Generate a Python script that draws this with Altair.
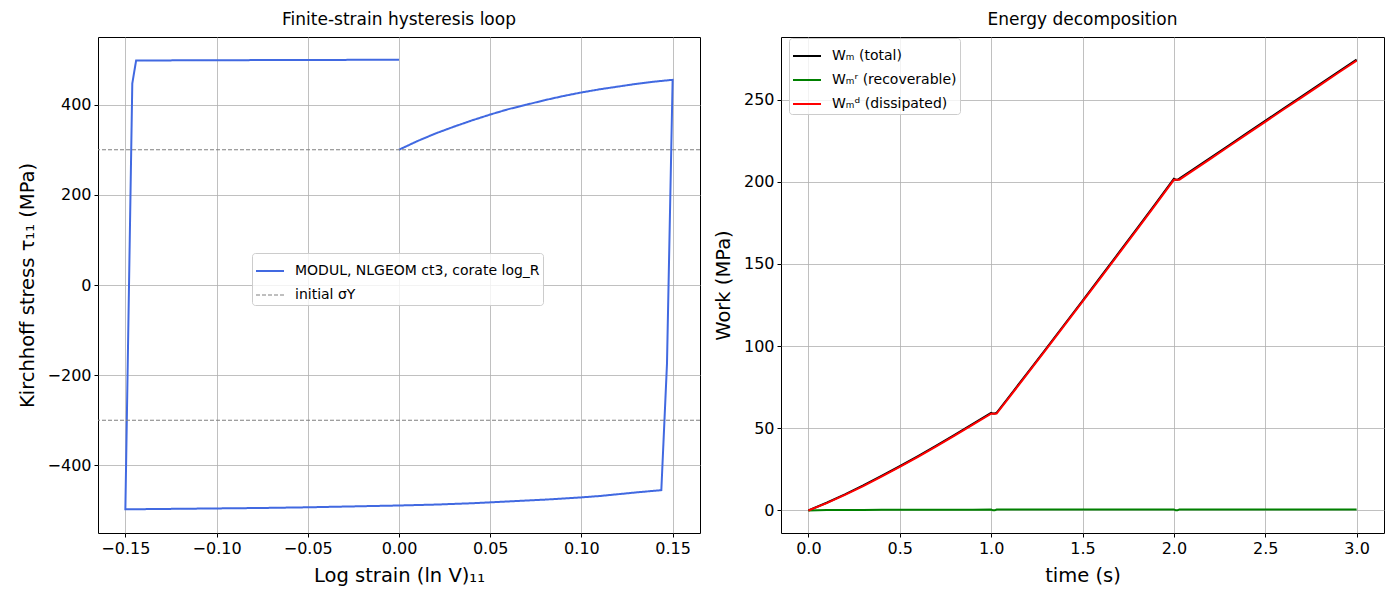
import altair as alt
import pandas as pd

# ---------------- data: left panel (hysteresis loop) ----------------
strain = [
    0.0, 0.01, 0.02, 0.03, 0.04, 0.05, 0.06, 0.07, 0.08, 0.09, 0.10, 0.11, 0.12, 0.13, 0.14, 0.15,
    0.1469, 0.1438,
    0.13, 0.12, 0.11, 0.10, 0.08, 0.06, 0.04, 0.02, 0.0, -0.025, -0.05, -0.075, -0.10, -0.125, -0.15,
    -0.1462, -0.1441,
    -0.12, -0.10, -0.075, -0.05, -0.025, 0.0,
]
stress = [
    300, 319, 336, 351, 365, 378, 390, 400, 410, 419, 427, 434, 440, 446, 451, 455,
    -175, -455,
    -460, -464, -468, -471, -476, -480, -484, -487, -489, -491, -493, -494.5, -495.5, -496.5, -497.5,
    447, 498,
    498.2, 498.5, 498.8, 499.1, 499.3, 499.5,
]
loop_label = "MODUL, NLGEOM ct3, corate log_R"
yield_label = "initial σY"
yield_levels = [300, -300]

# ---------------- data: right panel (energy) ----------------
time = [
    0.0, 0.1, 0.2, 0.3, 0.4, 0.5, 0.6, 0.7, 0.8, 0.9, 1.0,
    1.01, 1.02, 1.03,
    1.1, 1.2, 1.3, 1.4, 1.5, 1.6, 1.7, 1.8, 1.9, 2.0,
    2.01, 2.02, 2.03,
    2.1, 2.2, 2.3, 2.4, 2.5, 2.6, 2.7, 2.8, 2.9, 3.0,
]
w_total = [
    0.0, 4.7, 9.8, 15.2, 21.0, 26.9, 33.1, 39.5, 46.0, 52.7, 59.4,
    58.95, 58.95, 59.45,
    69.5, 83.9, 98.4, 113.0, 127.6, 142.3, 157.0, 171.8, 186.7, 201.8,
    201.25, 201.25, 201.9,
    207.1, 214.6, 222.1, 229.6, 237.1, 244.6, 252.0, 259.5, 267.0, 274.4,
]
w_rec = [
    0.0, 0.27, 0.31, 0.34, 0.37, 0.40, 0.43, 0.46, 0.48, 0.50, 0.52,
    0.07, 0.07, 0.52,
    0.53, 0.54, 0.55, 0.56, 0.57, 0.58, 0.58, 0.59, 0.60, 0.60,
    0.05, 0.05, 0.62,
    0.62, 0.62, 0.62, 0.62, 0.62, 0.62, 0.62, 0.62, 0.62, 0.62,
]
w_diss = [
    0.0, 4.43, 9.49, 14.86, 20.63, 26.50, 32.67, 39.04, 45.52, 52.20, 58.88,
    58.88, 58.88, 58.93,
    68.97, 83.36, 97.85, 112.44, 127.03, 141.72, 156.42, 171.21, 186.10, 201.20,
    201.20, 201.20, 201.28,
    206.48, 213.98, 221.48, 228.98, 236.48, 243.98, 251.38, 258.88, 266.38, 273.78,
]
energy_labels = ["Wₘ (total)", "Wₘʳ (recoverable)", "Wₘᵈ (dissipated)"]
energy_colors = ["#000000", "#008000", "#ff0000"]

FONT = "DejaVu Sans"

# ---------------- left panel ----------------
loop_df = pd.DataFrame({"strain": strain, "stress": stress,
                        "idx": list(range(len(strain))), "series": loop_label})
yield_df = pd.DataFrame({"level": yield_levels, "series": yield_label})

left_legend = alt.Legend(title=None, orient="none", legendX=154, legendY=216,
                         symbolType="stroke", symbolSize=784, labelLimit=0)
left_color = alt.Color(
    "series:N",
    scale=alt.Scale(domain=[loop_label, yield_label], range=["#4169e1", "#808080"]),
    legend=left_legend,
)
left_dash = alt.StrokeDash(
    "series:N",
    scale=alt.Scale(domain=[loop_label, yield_label], range=[[1, 0], [4, 2]]),
    legend=left_legend,
)
left_sw = alt.StrokeWidth(
    "series:N",
    scale=alt.Scale(domain=[loop_label, yield_label], range=[2, 1.1]),
    legend=None,
)

xs_left = alt.Scale(domain=[-0.165, 0.165], nice=False, zero=False)
ys_left = alt.Scale(domain=[-550, 550], nice=False, zero=False)

loop = alt.Chart(loop_df).mark_line(strokeJoin="miter").encode(
    x=alt.X("strain:Q", scale=xs_left,
            axis=alt.Axis(title="Log strain (ln V)₁₁", values=[-0.15, -0.10, -0.05, 0.0, 0.05, 0.10, 0.15],
                          format=".2f")),
    y=alt.Y("stress:Q", scale=ys_left,
            axis=alt.Axis(title="Kirchhoff stress τ₁₁ (MPa)", values=[-400, -200, 0, 200, 400], format="d")),
    order="idx:Q",
    color=left_color,
    strokeDash=left_dash,
    strokeWidth=left_sw,
)
yields = alt.Chart(yield_df).mark_rule().encode(
    y=alt.Y("level:Q", scale=ys_left),
    color=left_color,
    strokeDash=left_dash,
    strokeWidth=left_sw,
)
left = alt.layer(loop, yields).properties(
    width=602, height=496,
    title=alt.TitleParams("Finite-strain hysteresis loop"),
)

# ---------------- right panel ----------------
def energy_df(values, label):
    return pd.DataFrame({"time": time, "work": values, "series": label})

right_color = alt.Color(
    "series:N",
    scale=alt.Scale(domain=energy_labels, range=energy_colors),
    legend=alt.Legend(title=None, orient="none", legendX=8, legendY=1,
                      symbolType="stroke", symbolSize=784, labelLimit=0),
)
xs_right = alt.Scale(domain=[-0.15, 3.15], nice=False, zero=False)
ys_right = alt.Scale(domain=[-13.72, 288.12], nice=False, zero=False)

def energy_layer(values, label):
    return alt.Chart(energy_df(values, label)).mark_line(strokeWidth=2).encode(
        x=alt.X("time:Q", scale=xs_right,
                axis=alt.Axis(title="time (s)", values=[0, 0.5, 1, 1.5, 2, 2.5, 3], format=".1f")),
        y=alt.Y("work:Q", scale=ys_right,
                axis=alt.Axis(title="Work (MPa)", values=[0, 50, 100, 150, 200, 250], format="d")),
        color=right_color,
    )

right = alt.layer(
    energy_layer(w_total, energy_labels[0]),
    energy_layer(w_rec, energy_labels[1]),
    energy_layer(w_diss, energy_labels[2]),
).properties(width=603, height=496, title=alt.TitleParams("Energy decomposition"))

chart = alt.hconcat(left, right, spacing=10).resolve_scale(
    color="independent", strokeDash="independent", strokeWidth="independent",
    x="independent", y="independent",
).properties(
    padding={"left": 16, "top": 10, "right": 5, "bottom": 5},
).configure(
    font=FONT,
    background="white",
).configure_view(
    stroke="black", strokeWidth=1,
).configure_axis(
    domain=False,
    grid=True, gridColor="#b0b0b0", gridWidth=0.8,
    ticks=True, tickColor="black", tickSize=4, tickWidth=1,
    labelFont=FONT, labelFontSize=16, labelColor="black", labelPadding=3,
    titleFont=FONT, titleFontSize=19.5, titleFontWeight="normal", titleColor="black",
    titlePadding=10,
).configure_axisX(
    labelFlush=False,
).configure_title(
    font=FONT, fontSize=17, fontWeight="normal", color="black", offset=8, anchor="middle",
).configure_legend(
    labelFont=FONT, labelFontSize=14, labelColor="black",
    fillColor="rgba(255,255,255,0.8)", strokeColor="#cccccc", cornerRadius=3,
    padding=3, rowPadding=2, labelOffset=10, symbolStrokeWidth=2,
)

chart.save("out.html", embed_options={"renderer": "svg", "actions": False})
